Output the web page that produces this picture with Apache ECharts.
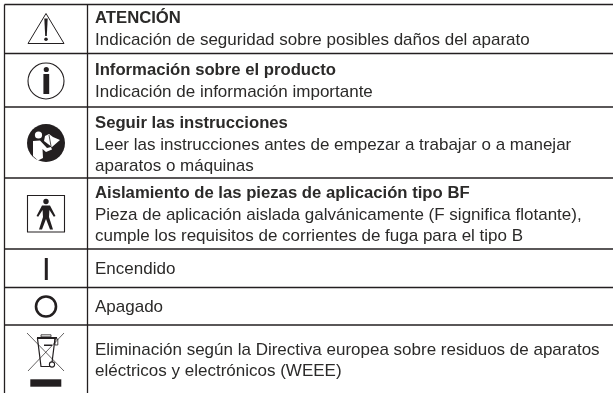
<!DOCTYPE html>
<html>
<head>
<meta charset="utf-8">
<style>html,body{margin:0;padding:0;background:#fff}#main{width:613px;height:393px}</style>
<script src="https://cdn.jsdelivr.net/npm/echarts@6/dist/echarts.min.js"></script>
</head>
<body>
<div id="main"></div>
<script>
// table content
const headings = ['ATENCIÓN', 'Información sobre el producto', 'Seguir las instrucciones', 'Aislamiento de las piezas de aplicación tipo BF', '', '', '']
const details = [
  ['Indicación de seguridad sobre posibles daños del aparato'],
  ['Indicación de información importante'],
  ['Leer las instrucciones antes de empezar a trabajar o a manejar', 'aparatos o máquinas'],
  ['Pieza de aplicación aislada galvánicamente (F significa flotante),', 'cumple los requisitos de corrientes de fuga para el tipo B'],
  ['Encendido'],
  ['Apagado'],
  ['Eliminación según la Directiva europea sobre residuos de aparatos', 'eléctricos y electrónicos (WEEE)']
]

// layout
const rowEdges = [4.5, 53.5, 107, 178, 249, 287.5, 325]
const firstLineY = [18.5, 70.5, 123.5, 193.7, 269, 307, 350]
const leftX = 4.5, colX = 87.5, textX = 95, rightX = 613, bottomY = 393, iconX = 46
const lineH = 21.5
const ink = '#231f20'
const textColor = '#2b2a29'
const font = '"Liberation Sans", Arial, sans-serif'

const els = []

function line(x1, y1, x2, y2, w, color) {
  els.push({ type: 'line', shape: { x1, y1, x2, y2 }, style: { stroke: color || ink, lineWidth: w || 1.3 } })
}
function text(str, x, y, bold) {
  els.push({ type: 'text', x, y, style: { text: str, fill: textColor, font: (bold ? 'bold 16.7px ' : '17px ') + font, textVerticalAlign: 'middle' } })
}
function poly(points, fill, stroke, w) {
  els.push({ type: 'polygon', shape: { points }, style: { fill: fill || 'none', stroke: stroke || 'none', lineWidth: w || 1 } })
}
function circle(cx, cy, r, fill, stroke, w) {
  els.push({ type: 'circle', shape: { cx, cy, r }, style: { fill: fill || 'none', stroke: stroke || 'none', lineWidth: w || 1 } })
}
function rect(x, y, width, height, fill, stroke, w) {
  els.push({ type: 'rect', shape: { x, y, width, height }, style: { fill: fill || 'none', stroke: stroke || 'none', lineWidth: w || 1 } })
}

// grid lines
rowEdges.forEach(y => line(leftX, y, rightX, y))
line(leftX, rowEdges[0], leftX, bottomY)
line(colX, rowEdges[0], colX, bottomY)

// text of each row
headings.forEach((h, i) => {
  let y = firstLineY[i]
  if (h) { text(h, textX, y, true); y += lineH }
  details[i].forEach(d => { text(d, textX, y, false); y += lineH })
})

// warning triangle
poly([[iconX, 13.5], [64, 43.5], [28, 43.5]], null, ink, 1)
poly([[44.3, 18.5], [47.7, 18.5], [46.8, 36], [45.2, 36]], ink)
circle(iconX, 39.3, 1.8, ink)

// info
circle(iconX, 81, 18, null, ink, 1.1)
circle(46.3, 69.5, 2.6, ink)
rect(43.4, 74, 5.8, 20, ink)

// read the manual
circle(iconX, 143, 19, ink)
circle(38.5, 135, 3.6, '#fff')
poly([[33, 141], [40, 140.5], [47, 148], [51, 147], [52, 149.5], [46, 152], [42.5, 149], [43, 158], [38, 160.5], [33, 156]], '#fff')
poly([[45, 136], [49, 134], [53, 137], [60, 140], [52, 147], [48, 144], [44, 141]], '#fff')
line(49, 135, 51, 146, 0.8, ink)

// type BF
rect(27.5, 195.5, 37, 36.5, null, ink, 1.1)
circle(iconX, 201.5, 2.7, ink)
poly([[42, 205.5], [50, 205.5], [55.5, 216], [53.8, 216.8], [49.4, 210], [49, 217], [53, 229.5], [50, 229.5], [46, 219], [42, 229.5], [39, 229.5], [43, 217], [42.6, 210], [38.2, 216.8], [36.5, 216]], ink)

// on / off
rect(44.8, 258, 3, 22, ink)
circle(iconX, 306.5, 10, null, ink, 2.6)

// WEEE bin
line(27, 333, 64, 371, 0.7)
line(64, 333, 28, 371, 0.7)
poly([[37.5, 338.5], [55, 338.5], [51.5, 366.5], [41, 366.5]], null, ink, 1.2)
rect(37, 337, 20, 1.8, ink)
rect(41, 334.8, 10, 2, null, ink, 0.8)
rect(55, 339, 2.8, 6, null, ink, 0.8)
rect(44, 344.5, 8, 1.5, ink)
circle(52, 364.5, 2.6, '#fff', ink, 1.1)
rect(30.3, 379.3, 31, 7.4, ink)

const chart = echarts.init(document.getElementById('main'), null, { renderer: 'canvas' })
chart.setOption({ animation: false, graphic: { elements: els } })
</script>
</body>
</html>
